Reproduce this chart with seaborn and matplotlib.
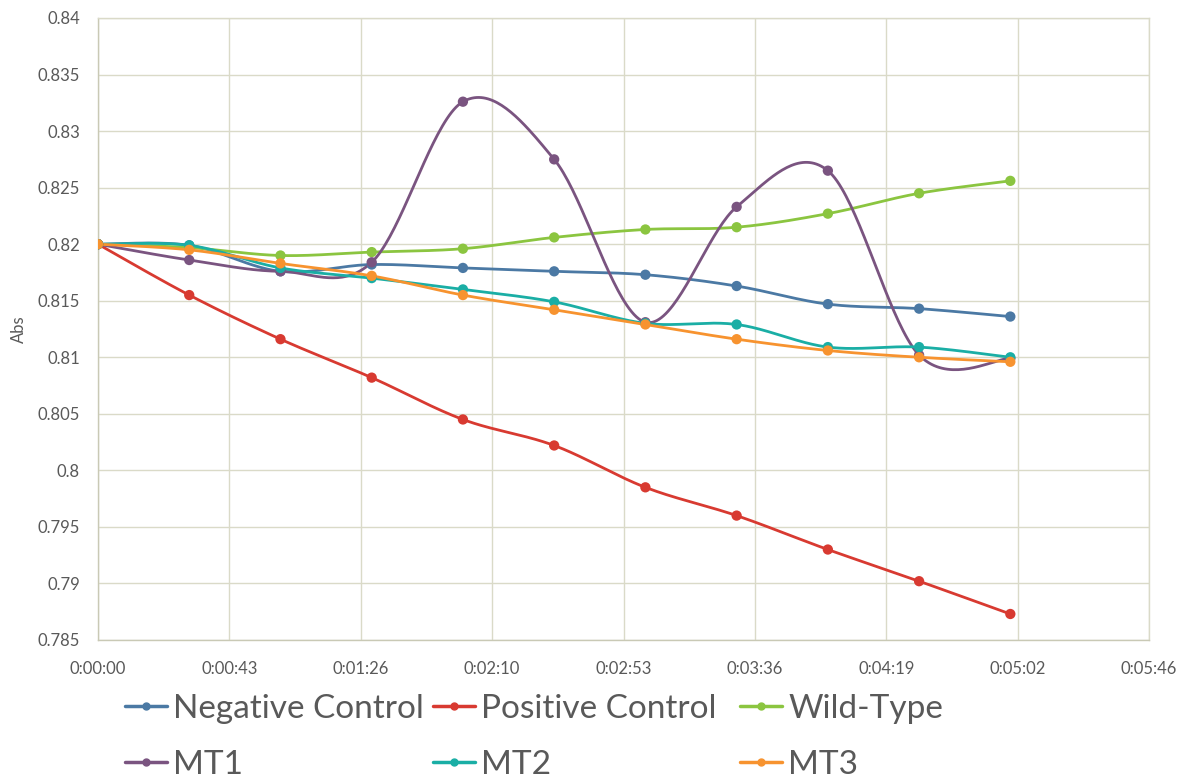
import numpy as np
import pandas as pd
import matplotlib
matplotlib.use("Agg")
import matplotlib.pyplot as plt
from matplotlib.lines import Line2D
import seaborn as sns

# Sampling times (seconds) and absorbance readings per sample
time_s = [0, 30, 60, 90, 120, 150, 180, 210, 240, 270, 300]

negative_control = [0.8200, 0.8199, 0.8176, 0.8182, 0.8179, 0.8176, 0.8173, 0.8163, 0.8147, 0.8143, 0.8136]
positive_control = [0.8200, 0.8155, 0.8116, 0.8082, 0.8045, 0.8022, 0.7985, 0.7960, 0.7930, 0.7902, 0.7873]
wild_type = [0.8200, 0.8197, 0.8190, 0.8193, 0.8196, 0.8206, 0.8213, 0.8215, 0.8227, 0.8245, 0.8256]
mt1 = [0.8200, 0.8186, 0.8176, 0.8184, 0.8326, 0.8275, 0.8131, 0.8233, 0.8265, 0.8102, 0.8099]
mt2 = [0.8200, 0.8199, 0.8179, 0.8170, 0.8160, 0.8149, 0.8130, 0.8129, 0.8109, 0.8109, 0.8100]
mt3 = [0.8200, 0.8195, 0.8183, 0.8172, 0.8155, 0.8142, 0.8129, 0.8116, 0.8106, 0.8100, 0.8096]

series_names = ["Negative Control", "Positive Control", "Wild-Type", "MT1", "MT2", "MT3"]
series_values = [negative_control, positive_control, wild_type, mt1, mt2, mt3]
series_colors = ["#4b79a4", "#d83a31", "#8bc540", "#7a5480", "#1aaea5", "#f7932f"]

# Axis ticks: x ticks every 0.0005 day (43.2 s)
x_ticks = [0, 43.2, 86.4, 129.6, 172.8, 216.0, 259.2, 302.4, 345.6]
x_tick_labels = ["0:00:00", "0:00:43", "0:01:26", "0:02:10", "0:02:53",
                 "0:03:36", "0:04:19", "0:05:02", "0:05:46"]
y_ticks = [0.785, 0.79, 0.795, 0.8, 0.805, 0.81, 0.815, 0.82, 0.825, 0.83, 0.835, 0.84]
y_tick_labels = ["0.785", "0.79", "0.795", "0.8", "0.805", "0.81", "0.815",
                 "0.82", "0.825", "0.83", "0.835", "0.84"]


def smooth_curve(xs, ys, n=40):
    """Cardinal (Catmull-Rom style) Bezier smoothing through every point."""
    p = np.column_stack([xs, ys]).astype(float)
    out = []
    for i in range(len(p) - 1):
        p0 = p[i - 1] if i > 0 else p[i]
        p1, p2 = p[i], p[i + 1]
        p3 = p[i + 2] if i + 2 < len(p) else p[i + 1]
        c1 = p1 + (p2 - p0) / 6.0
        c2 = p2 - (p3 - p1) / 6.0
        t = np.linspace(0, 1, n, endpoint=(i == len(p) - 2))[:, None]
        seg = ((1 - t) ** 3) * p1 + 3 * ((1 - t) ** 2) * t * c1 + 3 * (1 - t) * t ** 2 * c2 + t ** 3 * p2
        out.append(seg)
    out = np.vstack(out)
    return out[:, 0], out[:, 1]


sns.set_theme(style="white")
plt.rcParams["font.family"] = ["Lato", "DejaVu Sans"]

W, H = 1195, 780
fig = plt.figure(figsize=(W / 100, H / 100), dpi=100)
ax = fig.add_axes([98 / W, 1 - 640 / H, (1149 - 98) / W, (640 - 18) / H])

grid_color = "#dadac8"
axis_color = "#c9c9b5"
text_color = "#595959"

for name, vals, col in zip(series_names, series_values, series_colors):
    sx, sy = smooth_curve(time_s, vals)
    curve = pd.DataFrame({"t": sx, "abs": sy})
    sns.lineplot(data=curve, x="t", y="abs", sort=False, estimator=None,
                 color=col, linewidth=2.0, ax=ax, zorder=3)
    pts = pd.DataFrame({"t": time_s, "abs": vals})
    sns.scatterplot(data=pts, x="t", y="abs", color=col, s=55,
                    edgecolor="none", ax=ax, zorder=4)

ax.set_xlim(0, 345.6)
ax.set_ylim(0.785, 0.84)
ax.set_xticks(x_ticks)
ax.set_xticklabels(x_tick_labels)
ax.set_yticks(y_ticks)
ax.set_yticklabels(y_tick_labels)
ax.tick_params(axis="y", length=0, labelsize=12, colors=text_color, pad=13)
ax.tick_params(axis="x", length=0, labelsize=12, colors=text_color, pad=15)
ax.grid(True, color=grid_color, linewidth=1.0)
ax.set_axisbelow(True)
for sp in ax.spines.values():
    sp.set_color(grid_color)
    sp.set_linewidth(1.0)
ax.spines["left"].set_color(axis_color)
ax.spines["bottom"].set_color(axis_color)

ax.set_xlabel("")
ax.set_ylabel("Abs", fontsize=12, color=text_color, labelpad=8)

# Legend: three equal-width columns, two rows
handles = [Line2D([0], [0], color=c, linewidth=2.5, marker="o", markersize=5)
           for c in series_colors]
col_x = [125, 433, 740]
for j, x0 in enumerate(col_x):
    idx = [j, j + 3]
    leg = fig.legend([handles[i] for i in idx], [series_names[i] for i in idx],
                     ncol=1, loc="upper left", bbox_to_anchor=(x0 / W, 1 - 694 / H),
                     frameon=False, fontsize=24, handlelength=1.25, handletextpad=0.2,
                     labelspacing=0.78, borderpad=0.0, borderaxespad=0.0)
    for txt in leg.get_texts():
        txt.set_color(text_color)

fig.savefig("out.png", dpi=100, facecolor="white")
